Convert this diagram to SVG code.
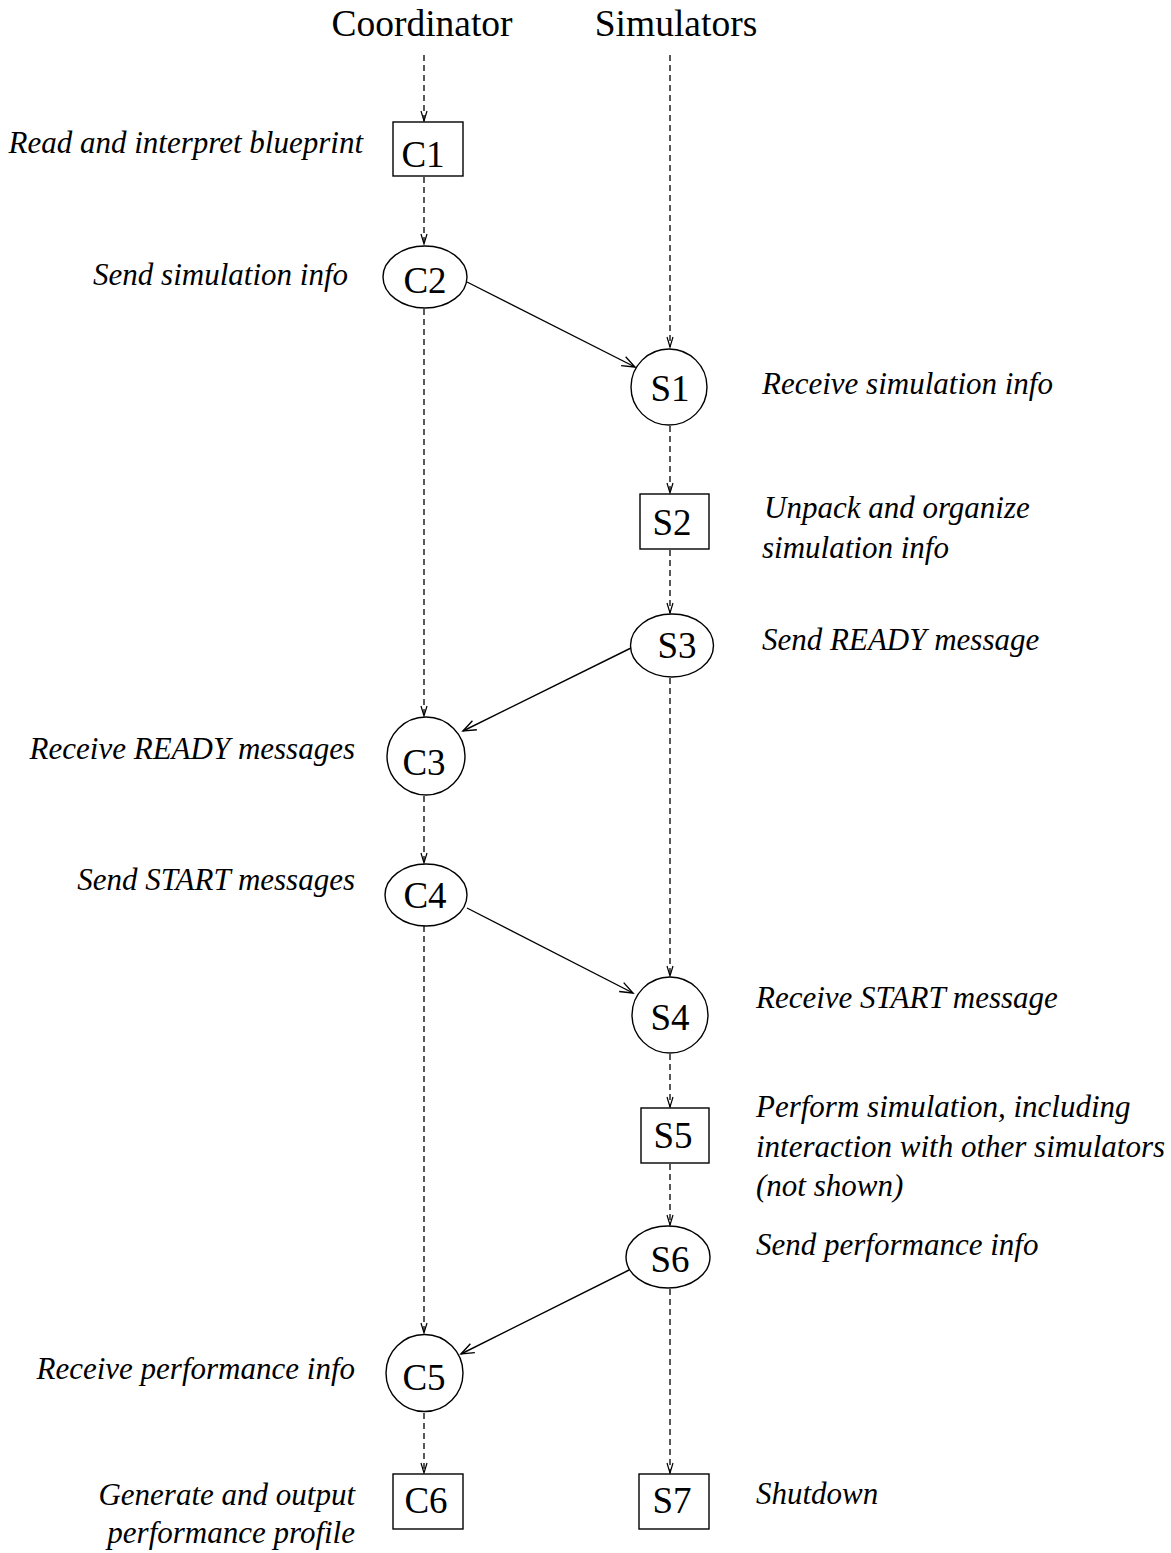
<svg xmlns="http://www.w3.org/2000/svg" width="1171" height="1553" viewBox="0 0 1171 1553">
<style>
.bg{fill:#fff}
.shape{fill:#fff;stroke:#000;stroke-width:1.4}
.title{font-family:"Liberation Serif","Times New Roman",serif;font-size:37.5px;fill:#000;text-anchor:middle}
.nt{font-family:"Liberation Serif","Times New Roman",serif;font-size:37px;fill:#000;text-anchor:middle}
.lbl{font-family:"Liberation Serif","Times New Roman",serif;font-style:italic;font-size:31px;fill:#000}
.lend{text-anchor:end}
.dash{stroke:#000;stroke-width:1.3;stroke-dasharray:6 4;fill:none;marker-end:url(#dv)}
.solid{stroke:#000;stroke-width:1.4;fill:none;marker-end:url(#sv)}
</style>
<defs>
<marker id="dv" markerUnits="userSpaceOnUse" viewBox="-12 -6 14 12" refX="0" refY="0" markerWidth="14" markerHeight="12" orient="auto">
<path d="M-10,-3 L0,0 L-10,3" fill="none" stroke="#000" stroke-width="1.2"/>
</marker>
<marker id="sv" markerUnits="userSpaceOnUse" viewBox="-16 -8 18 16" refX="0" refY="0" markerWidth="18" markerHeight="16" orient="auto">
<path d="M-13,-5 L0,0 L-13,5" fill="none" stroke="#000" stroke-width="1.4"/>
</marker>
</defs>
<rect class="bg" x="0" y="0" width="1171" height="1553"/>
<text class="title" x="422" y="36">Coordinator</text>
<text class="title" x="676" y="36">Simulators</text>
<g id="connectors">
<line class="dash" x1="424" y1="55" x2="424" y2="121"/>
<line class="dash" x1="424" y1="177" x2="424" y2="244"/>
<line class="dash" x1="424" y1="309" x2="424" y2="716"/>
<line class="dash" x1="424" y1="796" x2="424" y2="863"/>
<line class="dash" x1="424" y1="926" x2="424" y2="1333"/>
<line class="dash" x1="424" y1="1413" x2="424" y2="1473"/>
<line class="dash" x1="670" y1="55" x2="670" y2="347"/>
<line class="dash" x1="670" y1="426" x2="670" y2="493"/>
<line class="dash" x1="670" y1="550" x2="670" y2="613"/>
<line class="dash" x1="670" y1="678" x2="670" y2="976"/>
<line class="dash" x1="670" y1="1054" x2="670" y2="1107"/>
<line class="dash" x1="670" y1="1164" x2="670" y2="1225"/>
<line class="dash" x1="670" y1="1289" x2="670" y2="1473"/>
<line class="solid" x1="467" y1="282" x2="635" y2="367"/>
<line class="solid" x1="633" y1="647" x2="463" y2="731"/>
<line class="solid" x1="467" y1="908" x2="633" y2="993"/>
<line class="solid" x1="629" y1="1270" x2="461" y2="1354"/>
</g>
<g id="C1"><rect class="shape" x="393" y="122" width="70" height="54"/><text class="nt" x="423" y="167">C1</text>
<text class="lbl lend" x="363" y="153">Read and interpret blueprint</text></g>
<g id="C2"><ellipse class="shape" cx="425" cy="277" rx="42" ry="31"/><text class="nt" x="425" y="293">C2</text>
<text class="lbl lend" x="348" y="285">Send simulation info</text></g>
<g id="S1"><circle class="shape" cx="669" cy="387" r="38"/><text class="nt" x="670" y="401">S1</text>
<text class="lbl" x="762" y="394">Receive simulation info</text></g>
<g id="S2"><rect class="shape" x="640" y="494" width="69" height="55"/><text class="nt" x="672" y="535">S2</text>
<text class="lbl" x="764" y="518">Unpack and organize</text>
<text class="lbl" x="762" y="558">simulation info</text></g>
<g id="S3"><ellipse class="shape" cx="672" cy="645.5" rx="41.5" ry="31.5"/><text class="nt" x="677" y="658">S3</text>
<text class="lbl" x="762" y="650">Send READY message</text></g>
<g id="C3"><circle class="shape" cx="426" cy="756" r="39"/><text class="nt" x="424" y="775">C3</text>
<text class="lbl lend" x="355" y="759">Receive READY messages</text></g>
<g id="C4"><ellipse class="shape" cx="426" cy="895" rx="41" ry="31"/><text class="nt" x="425" y="908">C4</text>
<text class="lbl lend" x="355" y="890">Send START messages</text></g>
<g id="S4"><circle class="shape" cx="670" cy="1015" r="38"/><text class="nt" x="670" y="1030">S4</text>
<text class="lbl" x="756" y="1008">Receive START message</text></g>
<g id="S5"><rect class="shape" x="641" y="1108" width="68" height="55"/><text class="nt" x="673" y="1148">S5</text>
<text class="lbl" x="756" y="1117">Perform simulation, including</text>
<text class="lbl" x="756" y="1157">interaction with other simulators</text>
<text class="lbl" x="756" y="1196">(not shown)</text></g>
<g id="S6"><ellipse class="shape" cx="668" cy="1257" rx="42" ry="31"/><text class="nt" x="670" y="1272">S6</text>
<text class="lbl" x="756" y="1255">Send performance info</text></g>
<g id="C5"><circle class="shape" cx="424.5" cy="1373" r="38.5"/><text class="nt" x="424" y="1390">C5</text>
<text class="lbl lend" x="355" y="1379">Receive performance info</text></g>
<g id="C6"><rect class="shape" x="393" y="1474" width="70" height="55"/><text class="nt" x="426" y="1513">C6</text>
<text class="lbl lend" x="355" y="1505">Generate and output</text>
<text class="lbl lend" x="355" y="1543">performance profile</text></g>
<g id="S7"><rect class="shape" x="639" y="1474" width="70" height="55"/><text class="nt" x="672" y="1513">S7</text>
<text class="lbl" x="756" y="1504">Shutdown</text></g>
</svg>
